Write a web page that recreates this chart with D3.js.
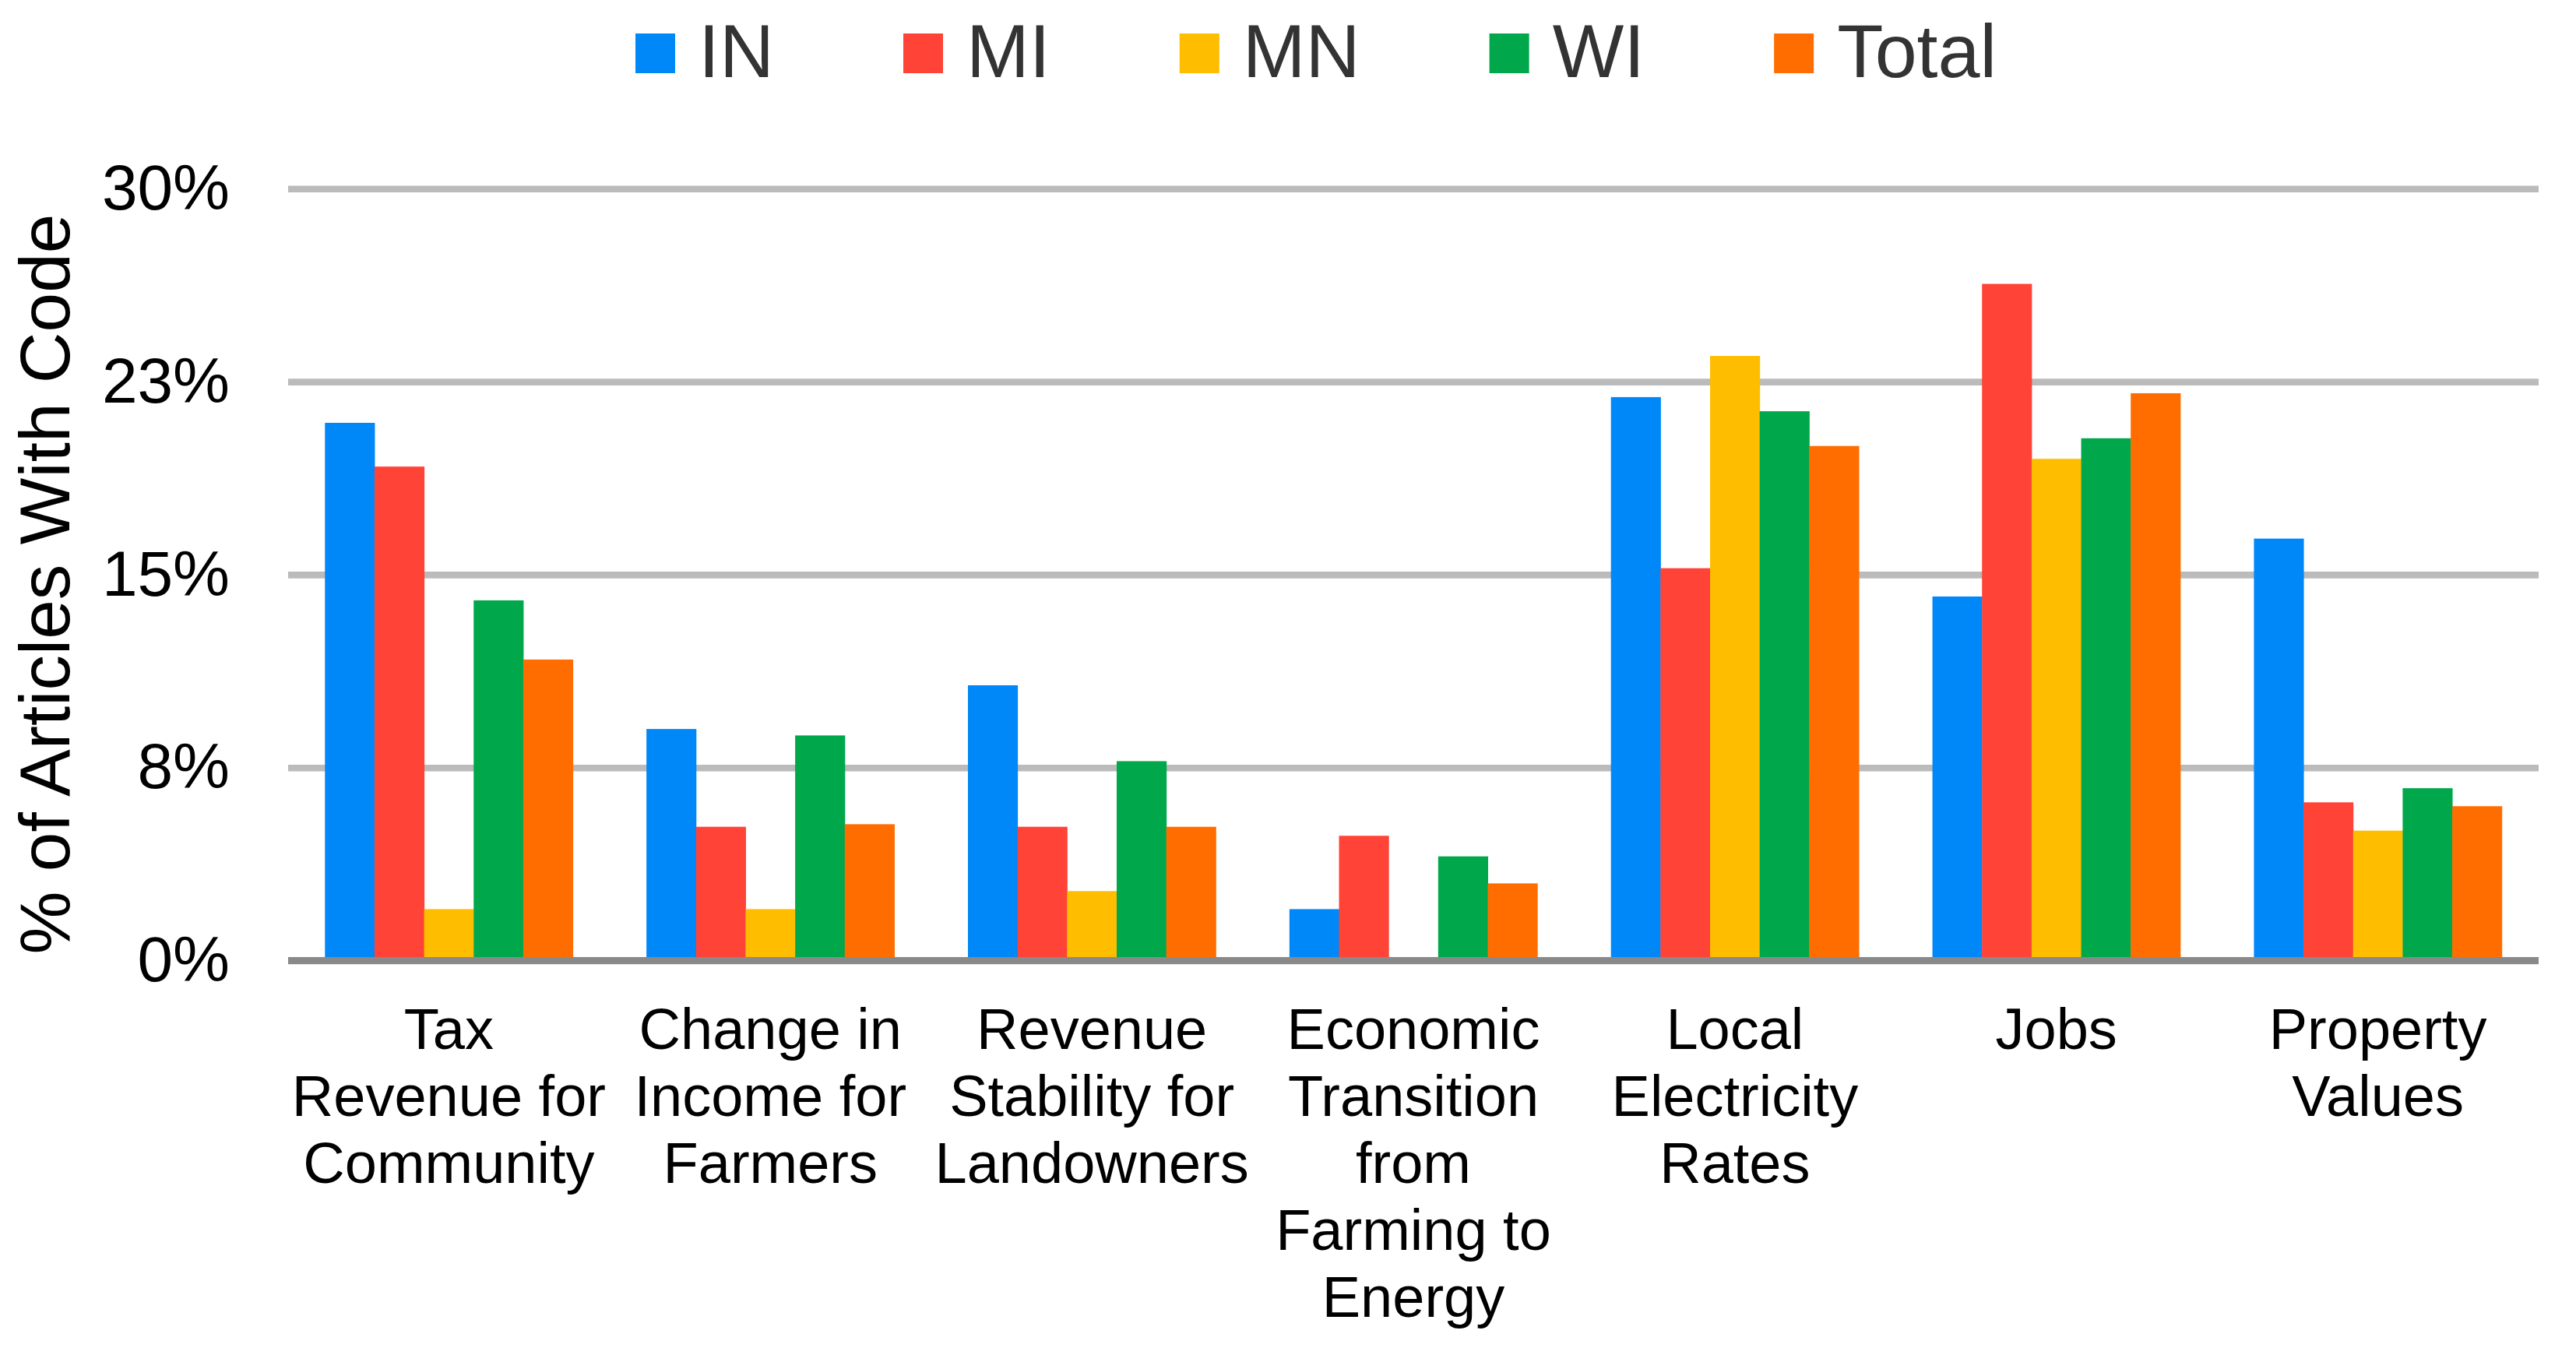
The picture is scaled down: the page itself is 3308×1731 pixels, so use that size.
<!DOCTYPE html>
<html>
<head>
<meta charset="utf-8">
<script src="https://cdn.jsdelivr.net/npm/d3@7"></script>
<style>
  body { margin: 0; background: #fff; }
  text { font-family: 'Liberation Sans', Arial, sans-serif; }
</style>
</head>
<body>
<svg id="chart" width="3308" height="1731"></svg>
<script>
// category labels, already wrapped the way the original wraps them
const categories = [
  ['Tax', 'Revenue for', 'Community'],
  ['Change in', 'Income for', 'Farmers'],
  ['Revenue', 'Stability for', 'Landowners'],
  ['Economic', 'Transition', 'from', 'Farming to', 'Energy'],
  ['Local', 'Electricity', 'Rates'],
  ['Jobs'],
  ['Property', 'Values'],
];
const seriesNames = ['IN', 'MI', 'MN', 'WI', 'Total'];

// % of articles
const valuesIN = [20.9, 9.0, 10.7, 2.0, 21.9, 14.15, 16.4];
const valuesMI = [19.2, 5.2, 5.2, 4.85, 15.25, 26.3, 6.15];
const valuesMN = [2.0, 2.0, 2.7, 0, 23.5, 19.5, 5.05];
const valuesWI = [14.0, 8.75, 7.75, 4.05, 21.35, 20.3, 6.7];
const valuesTotal = [11.7, 5.3, 5.2, 3.0, 20.0, 22.05, 6.0];

const tickValues = [0, 7.5, 15, 22.5, 30];
const tickLabels = ['0%', '8%', '15%', '23%', '30%'];

const colors = ['#0088f8', '#ff4336', '#ffbd00', '#00a84b', '#ff6d00'];

const series = [valuesIN, valuesMI, valuesMN, valuesWI, valuesTotal];

const svg = d3.select('#chart');
const plotLeft = 370; const plotRight = 3260;
const plotTop = 242.3; const plotBottom = 1233.5;

const x0 = d3.scaleBand()
    .domain(d3.range(categories.length))
    .range([plotLeft, plotRight])
    .paddingInner(0.229)
    .paddingOuter(0.1145);

const x1 = d3.scaleBand()
    .domain(seriesNames)
    .range([0, x0.bandwidth()]);

const y = d3.scaleLinear().domain([0, 30]).range([plotBottom, plotTop]);

// gridlines + tick labels
const yAxis = svg.append('g')
    .attr('transform', `translate(${plotLeft},0)`)
    .call(d3.axisLeft(y)
        .tickValues(tickValues)
        .tickFormat((d, i)=>tickLabels[i])
        .tickSize(-(plotRight-plotLeft))
        .tickPadding(75));

yAxis.select('.domain').remove();
yAxis.selectAll('.tick line')
    .style('stroke', '#bbbbbb')
    .style('stroke-width', 8.6);
yAxis.selectAll('.tick text')
    .style('font-size', '82px')
    .style('fill', '#000')
    .style('font-family', '\'Liberation Sans\', Arial, sans-serif');

// bars
const groups = svg.append('g').selectAll('g')
    .data(categories)
    .enter().append('g')
    .attr('transform', (d, i)=>`translate(${x0(i)},0)`);

groups.selectAll('rect')
    .data((d, i)=>seriesNames.map((s, si)=>({key: s, value: series[si][i], si: si})))
    .enter().append('rect')
    .attr('x', (d)=>x1(d.key))
    .attr('width', x1.bandwidth() + 0.5)
    .attr('y', (d)=>y(d.value))
    .attr('height', (d)=>y(0) - y(d.value))
    .style('fill', (d)=>colors[d.si]);

// baseline
svg.append('line')
    .attr('x1', plotLeft)
    .attr('x2', plotRight)
    .attr('y1', y(0))
    .attr('y2', y(0))
    .style('stroke', '#898989')
    .style('stroke-width', 9);

// category labels
const catLabels = svg.append('g').selectAll('text')
    .data(categories)
    .enter().append('text')
    .attr('text-anchor', 'middle')
    .style('font-size', '74px')
    .style('fill', '#000');

catLabels.selectAll('tspan')
    .data((d, i)=>d.map((line)=>({line: line, i: i})))
    .enter().append('tspan')
    .attr('x', (d)=>x0(d.i) + x0.bandwidth()/2)
    .attr('y', (d, li)=>1347 + li*86)
    .text((d)=>d.line);

// y axis title
svg.append('text')
    .attr('transform', 'translate(89,750) rotate(-90)')
    .attr('text-anchor', 'middle')
    .style('font-size', '91px')
    .style('fill', '#000')
    .text('% of Articles With Code');

// legend
const legend = svg.append('g');
let lx = 816;
seriesNames.forEach((name, i)=>{
  legend.append('rect')
      .attr('x', lx)
      .attr('y', 43)
      .attr('width', 51)
      .attr('height', 51)
      .style('fill', colors[i]);
  const t = legend.append('text')
      .attr('x', lx + 81)
      .attr('y', 99)
      .style('font-size', '97px')
      .style('fill', '#333')
      .text(name);
  lx += 81 + t.node().getComputedTextLength() + 166;
});
</script>
</body>
</html>
